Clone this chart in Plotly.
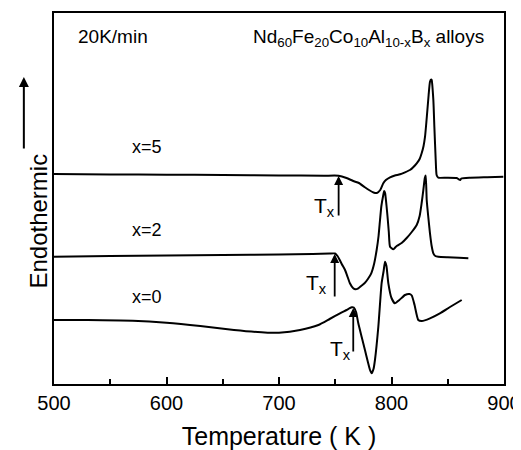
import plotly.graph_objects as go

# Temperature (K) and DSC signal (arbitrary units) for each composition
T_x5 = [500, 550, 600, 650, 700, 740, 753, 760, 766, 771, 776, 780, 784, 787, 790, 792.7, 795, 798.7,
        803, 807.6, 812, 816.4, 819.5, 822.4, 825, 826.8, 828.5, 829.8, 831, 831.9, 833, 834.2, 835.2,
        835.7, 837.2, 838.1, 839.3, 840.1, 841.6, 849, 858, 860, 861, 862, 870, 885, 899.4]
S_x5 = [210, 209.6, 209.3, 209, 208.6, 208.3, 208.3, 206, 203, 201, 197, 194, 191.5, 191, 194, 200.7, 204, 206.7,
        208.5, 209.7, 211.7, 214, 217, 220.7, 225, 230.7, 238, 247.3, 262, 274, 289, 302.3, 304.5,
        304, 284, 257.3, 224, 209, 206.3, 206.3, 206, 204.5, 204, 205.5, 206.3, 206.8, 207.3]

T_x2 = [500, 550, 600, 650, 700, 730, 745, 749.8, 752, 754, 756, 758.7, 761, 763, 766, 768, 770.5, 773, 776,
        779, 782, 784.5, 786.8, 788.5, 789.8, 791, 792.7, 793.5, 794.3, 795.5, 796.5, 797.6, 798.7, 801.6,
        804.6, 809, 813.5, 818, 822.4, 825, 826.8, 828.3, 829.6, 830.4, 831.3, 832.7, 834.2, 835.7, 837.2,
        839, 841.6, 850, 860, 868.3]
S_x2 = [127.3, 128, 128.5, 129, 129.5, 130, 130.5, 130.5, 128, 124, 119.5, 114, 107, 100.7, 95.7, 94.7, 95.7, 98, 100.7,
        105, 110.7, 120, 134, 148, 164, 178, 189, 193, 191, 179, 167, 152, 137.3, 134.7,
        138, 141, 146, 152, 159, 168, 181, 194, 206, 208.5, 184, 167, 150.7, 138, 130.7,
        128, 127.3, 126.7, 126.2, 125.7]

T_x0 = [500, 530, 570, 600, 630, 660, 690, 700, 718.7, 735, 745, 754.2, 760, 764.6, 766.5, 768.5, 770.5, 773.5,
        776.4, 779, 780.9, 782.4, 784, 785.3, 788.3, 791.2, 793, 794.2, 795.5, 797.2, 800, 803, 807, 812,
        816, 818, 820.5, 823.8, 827, 834.2, 843, 852, 862.4]
S_x0 = [64, 64, 63.3, 61.3, 58, 54, 51.3, 51.3, 54, 59, 65, 70.7, 74, 76.7, 76.5, 72, 60.7, 47,
        34, 22, 14, 10.7, 15, 24, 57.3, 100.7, 113, 122.3, 118, 100.7, 86, 80.7, 84, 89,
        90, 88.5, 79, 64, 63, 65.7, 70.7, 77, 84]

x_ticks = [500, 600, 700, 800, 900]
series_names = ["x=5", "x=2", "x=0"]

# onset temperatures (Tx) and signal at onset
Tx_T = [753, 749.5, 766]
Tx_S = [208, 130, 76]

FONT = "Liberation Sans, Arial, sans-serif"

fig = go.Figure()
for T, S, name in zip([T_x5, T_x2, T_x0], [S_x5, S_x2, S_x0], series_names):
    fig.add_trace(go.Scatter(x=T, y=S, mode="lines", name=name,
                             line=dict(color="black", width=2, shape="spline", smoothing=0.5),
                             showlegend=False))

annotations = []
# series labels
for name, yv in zip(series_names, [237, 154, 87]):
    annotations.append(dict(x=583, y=yv, xref="x", yref="y", text=name, showarrow=False,
                            font=dict(family=FONT, size=18, color="black")))
# Tx arrows
for t, s, L in zip(Tx_T, Tx_S, [41, 44, 45]):
    annotations.append(dict(x=t, y=s, xref="x", yref="y", text="", showarrow=True,
                            ax=0, ay=L, arrowhead=2, arrowsize=1.0, arrowwidth=1.8,
                            arrowcolor="black"))
# Tx labels
for t, yv in zip([751.5, 744.5, 765.5], [177, 100, 34]):
    annotations.append(dict(x=t, y=yv, xref="x", yref="y", text="T<sub>x</sub>", showarrow=False,
                            xanchor="right", font=dict(family=FONT, size=21, color="black")))
annotations.append(dict(x=552.5, y=348, xref="x", yref="y", text="20K/min", showarrow=False,
                        font=dict(family=FONT, size=19, color="black")))
annotations.append(dict(x=675, y=346, xref="x", yref="y", xanchor="left",
                        text="Nd<sub>60</sub>Fe<sub>20</sub>Co<sub>10</sub>Al<sub>10-x</sub>B<sub>x</sub> alloys",
                        showarrow=False, font=dict(family=FONT, size=19, color="black")))
# y-axis title with arrow
annotations.append(dict(x=-0.071, y=(384 - 221) / 371, xref="paper", yref="paper", text="Endothermic",
                        textangle=-90, showarrow=False, font=dict(family=FONT, size=24, color="black")))
annotations.append(dict(x=-0.067, y=(384 - 77) / 371, xref="paper", yref="paper", text="", showarrow=True,
                        ax=0, ay=73, arrowhead=2, arrowsize=1.0, arrowwidth=2, arrowcolor="black"))

# the page body adds an 8px offset, so the figure is sized and placed to compensate
fig.update_layout(
    width=513, height=442,
    margin=dict(l=46, r=17, t=5, b=66, autoexpand=False),
    paper_bgcolor="white", plot_bgcolor="white",
    annotations=annotations,
    xaxis=dict(range=[500, 900], tickvals=x_ticks, ticktext=[str(v) for v in x_ticks],
               ticks="inside", ticklen=7, tickwidth=1.5, tickcolor="black", automargin=False,
               minor=dict(tickvals=[550, 650, 750, 850], ticks="inside", ticklen=5, tickwidth=1.5,
                          tickcolor="black"),
               showline=True, linecolor="black", linewidth=2, mirror=True, showgrid=False, zeroline=False,
               tickfont=dict(family=FONT, size=20, color="black"),
               title=dict(text="Temperature ( K )", font=dict(family=FONT, size=25, color="black"), standoff=14)),
    yaxis=dict(range=[0, 371], showticklabels=False, ticks="", showgrid=False, zeroline=False, automargin=False,
               showline=True, linecolor="black", linewidth=2, mirror=True),
)

fig.write_html("out.html")
